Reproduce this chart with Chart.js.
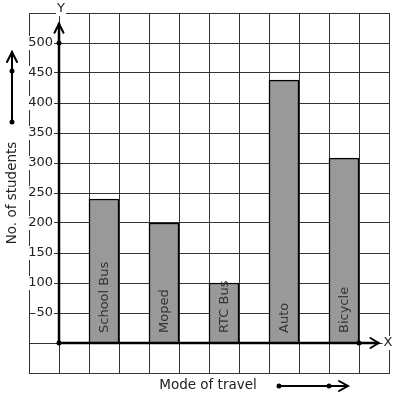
<!DOCTYPE html>
<html>
<head>
<meta charset="utf-8">
<script src="https://cdn.jsdelivr.net/npm/chart.js@4"></script>
<style>
  html, body { margin: 0; padding: 0; background: #fff; }
  canvas { display: block; }
</style>
</head>
<body>
<canvas id="myChart" width="397" height="399"></canvas>
<script>
// datos
const categories = ['School Bus', 'Moped', 'RTC Bus', 'Auto', 'Bicycle'];
const students = [240, 200, 100, 438, 308];
const yTicks = [50, 100, 150, 200, 250, 300, 350, 400, 450, 500];

const FONT = "'DejaVu Sans', sans-serif";
const INK = '#222';

// cada categoria ocupa una columna, con una columna vacia entre ellas
const barData = categories.map((c, i) => ({ x: 2 * i + 1.5, y: students[i] }));

function arrowHead(ctx, x, y, dx, dy, len, half) {
    // punta en (x,y), direccion (dx,dy)
    const bx = x - dx * len, by = y - dy * len;
    const px = -dy * half, py = dx * half;
    ctx.beginPath();
    ctx.moveTo(bx + px, by + py);
    ctx.lineTo(x, y);
    ctx.lineTo(bx - px, by - py);
    ctx.stroke();
}

function dot(ctx, x, y) {
    ctx.beginPath();
    ctx.arc(x, y, 2.5, 0, Math.PI * 2);
    ctx.fill();
}

function labelBox(ctx, text, x, y, align) {
    const w = ctx.measureText(text).width;
    let left = align === 'right' ? x - w : (align === 'center' ? x - w / 2 : x);
    ctx.fillStyle = '#fff';
    ctx.fillRect(left - 1, y - 7, w + 2, 14);
    ctx.fillStyle = INK;
    ctx.textAlign = align;
    ctx.fillText(text, x, y);
}

const ejesPlugin = {
    id: 'ejes',
    afterDatasetsDraw(chart) {
        const ctx = chart.ctx;
        const xs = chart.scales.x, ys = chart.scales.y;
        const x0 = xs.getPixelForValue(0), y0 = ys.getPixelForValue(0);
        ctx.save();
        ctx.strokeStyle = '#000';
        ctx.fillStyle = '#000';
        ctx.lineCap = 'round';

        // eje Y
        const yTop = ys.getPixelForValue(532);
        ctx.lineWidth = 2.5;
        ctx.beginPath(); ctx.moveTo(x0, y0); ctx.lineTo(x0, yTop); ctx.stroke();
        ctx.lineWidth = 2;
        arrowHead(ctx, x0, yTop, 0, -1, 9, 4.5);
        dot(ctx, x0, ys.getPixelForValue(500));

        // eje X
        const xEnd = xs.getPixelForValue(10.65);
        ctx.lineWidth = 2.5;
        ctx.beginPath(); ctx.moveTo(x0, y0); ctx.lineTo(xEnd, y0); ctx.stroke();
        ctx.lineWidth = 2;
        arrowHead(ctx, xEnd, y0, 1, 0, 8, 5);
        dot(ctx, xs.getPixelForValue(10), y0);
        dot(ctx, x0, y0);

        // textos de ticks
        ctx.font = '13px ' + FONT;
        ctx.textBaseline = 'middle';
        yTicks.forEach(v => {
            labelBox(ctx, String(v), x0 - 6, ys.getPixelForValue(v), 'right');
        });

        labelBox(ctx, 'Y', x0 + 2, 9, 'center');
        labelBox(ctx, 'X', 388, y0, 'center');

        // etiquetas dentro de las barras
        ctx.font = '13px ' + FONT;
        ctx.fillStyle = '#333';
        barData.forEach((d, i) => {
            ctx.save();
            ctx.translate(xs.getPixelForValue(d.x) + 1, y0 - 10);
            ctx.rotate(-Math.PI / 2);
            ctx.textAlign = 'left';
            ctx.textBaseline = 'middle';
            ctx.fillText(categories[i], 0, 0);
            ctx.restore();
        });

        // titulo eje Y con flecha
        ctx.fillStyle = INK;
        ctx.font = '13.5px ' + FONT;
        ctx.save();
        ctx.translate(12, 193);
        ctx.rotate(-Math.PI / 2);
        ctx.textAlign = 'center';
        ctx.fillText('No. of students', 0, 0);
        ctx.restore();
        ctx.fillStyle = '#000';
        ctx.lineWidth = 2;
        ctx.beginPath(); ctx.moveTo(12, 122); ctx.lineTo(12, 52); ctx.stroke();
        arrowHead(ctx, 12, 52, 0, -1, 10, 5);
        dot(ctx, 12, 122); dot(ctx, 12, 71);

        // titulo eje X con flecha
        ctx.fillStyle = INK;
        ctx.textAlign = 'center';
        ctx.fillText('Mode of travel', 208, 385);
        ctx.fillStyle = '#000';
        ctx.beginPath(); ctx.moveTo(279, 386); ctx.lineTo(347, 386); ctx.stroke();
        arrowHead(ctx, 348, 386, 1, 0, 9, 5);
        dot(ctx, 279, 386); dot(ctx, 329, 386);

        ctx.restore();
    }
};

new Chart(document.getElementById('myChart').getContext('2d'), {
    type: 'bar',
    data: {
        datasets: [{
            data: barData,
            backgroundColor: '#999999',
            borderColor: '#000',
            borderWidth: 1.5,
            borderSkipped: 'bottom',
            barThickness: 30
        }]
    },
    options: {
        responsive: false,
        animation: false,
        layout: { padding: { left: 29, right: 8, top: 13, bottom: 26 } },
        plugins: { legend: { display: false }, tooltip: { enabled: false } },
        scales: {
            x: {
                type: 'linear',
                offset: false,
                min: -1, max: 11,
                ticks: { display: false, stepSize: 1 },
                grid: { color: '#333', lineWidth: 1, drawTicks: false, offset: false },
                border: { display: true, color: '#333', width: 1 }
            },
            y: {
                min: -50, max: 550,
                ticks: { display: false, stepSize: 50 },
                grid: { color: '#333', lineWidth: 1, drawTicks: false },
                border: { display: true, color: '#333', width: 1 }
            }
        }
    },
    plugins: [ejesPlugin]
});
</script>
</body>
</html>
